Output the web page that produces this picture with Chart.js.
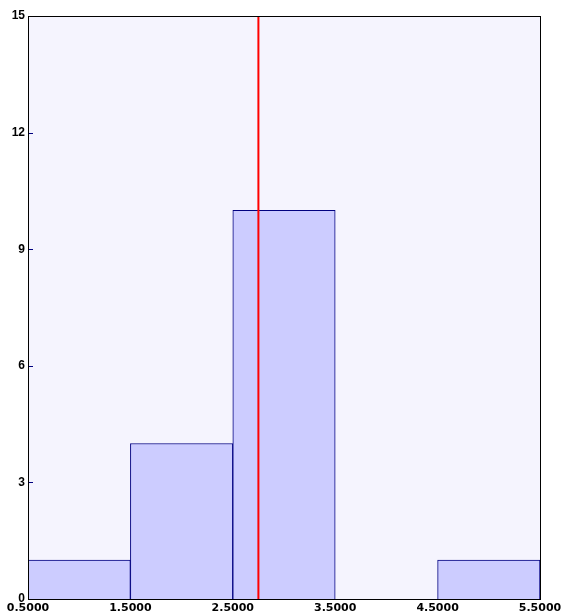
<!DOCTYPE html>
<html>
<head>
<meta charset="UTF-8" />
<script src="https://cdn.jsdelivr.net/npm/chart.js"></script>
<style>
  html, body { margin: 0; padding: 0; background: #fff; }
  #wrap { width: 562px; height: 616px; }
</style>
</head>
<body>
<div id="wrap"><canvas id="hist"></canvas></div>
<script>
  // histogram bins (centres) and counts
  const binCenters = [1, 2, 3, 4, 5];
  const counts = [1, 4, 10, 0, 1];
  const xTicks = [0.5, 1.5, 2.5, 3.5, 4.5, 5.5];
  const yTicks = [0, 3, 6, 9, 12, 15];
  const markerX = 2.75;

  // background + frame + inward y ticks
  const framePlugin = {
    id: "frame",
    beforeDatasetsDraw(chart) {
      const a = chart.chartArea, c = chart.ctx;
      c.save();
      c.fillStyle = "#f5f4fe";
      c.fillRect(a.left, a.top, a.right - a.left, a.bottom - a.top);
      c.restore();
    },
    afterDatasetsDraw(chart) {
      const a = chart.chartArea, c = chart.ctx;
      const ys = chart.scales.y;
      c.save();
      c.strokeStyle = "#000080";
      c.lineWidth = 1;
      yTicks.forEach((v) => {
        const p = Math.round(ys.getPixelForValue(v)) + 0.5;
        c.beginPath();
        c.moveTo(a.left, p);
        c.lineTo(a.left + 5, p);
        c.stroke();
      });
      c.strokeStyle = "#000";
      c.strokeRect(Math.round(a.left) + 0.5, Math.round(a.top) + 0.5,
        Math.round(a.right - a.left), Math.round(a.bottom - a.top));
      c.restore();
    }
  };

  new Chart(document.getElementById("hist"), {
    data: {
      datasets: [
        {
          type: "bar",
          data: binCenters.map((x, i) => ({ x: x, y: counts[i] })),
          backgroundColor: "#ccccff",
          borderColor: "#000080",
          borderWidth: 1,
          barPercentage: 1,
          categoryPercentage: 1,
          order: 2
        },
        {
          type: "line",
          data: [{ x: markerX, y: 0 }, { x: markerX, y: 15 }],
          borderColor: "#ff0000",
          borderWidth: 2,
          pointRadius: 0,
          order: 1
        }
      ]
    },
    options: {
      responsive: true,
      maintainAspectRatio: false,
      animation: false,
      layout: { padding: { top: 16, right: 22, left: 0, bottom: 0 } },
      plugins: { legend: { display: false }, tooltip: { enabled: false } },
      scales: {
        x: {
          type: "linear",
          offset: false,
          min: 0.5,
          max: 5.5,
          grid: { display: false, drawTicks: false, offset: false },
          border: { display: false },
          afterBuildTicks: (s) => { s.ticks = xTicks.map((v) => ({ value: v })); },
          afterFit: (s) => { s.height = 17; s.paddingLeft = 0; s.paddingRight = 0; },
          ticks: {
            color: "#000",
            font: { family: "DejaVu Sans", size: 11, weight: "bold" },
            padding: 3,
            maxRotation: 0,
            autoSkip: false,
            callback: (v) => Number(v).toFixed(4)
          }
        },
        y: {
          min: 0,
          max: 15,
          grid: { display: false, drawTicks: false },
          border: { display: false },
          afterBuildTicks: (s) => { s.ticks = yTicks.map((v) => ({ value: v })); },
          afterFit: (s) => { s.width = 28; s.paddingTop = 0; s.paddingBottom = 0; },
          ticks: {
            color: "#000",
            font: { family: "Liberation Sans", size: 12, weight: "bold" },
            padding: 3
          }
        }
      }
    },
    plugins: [framePlugin]
  });
</script>
</body>
</html>
